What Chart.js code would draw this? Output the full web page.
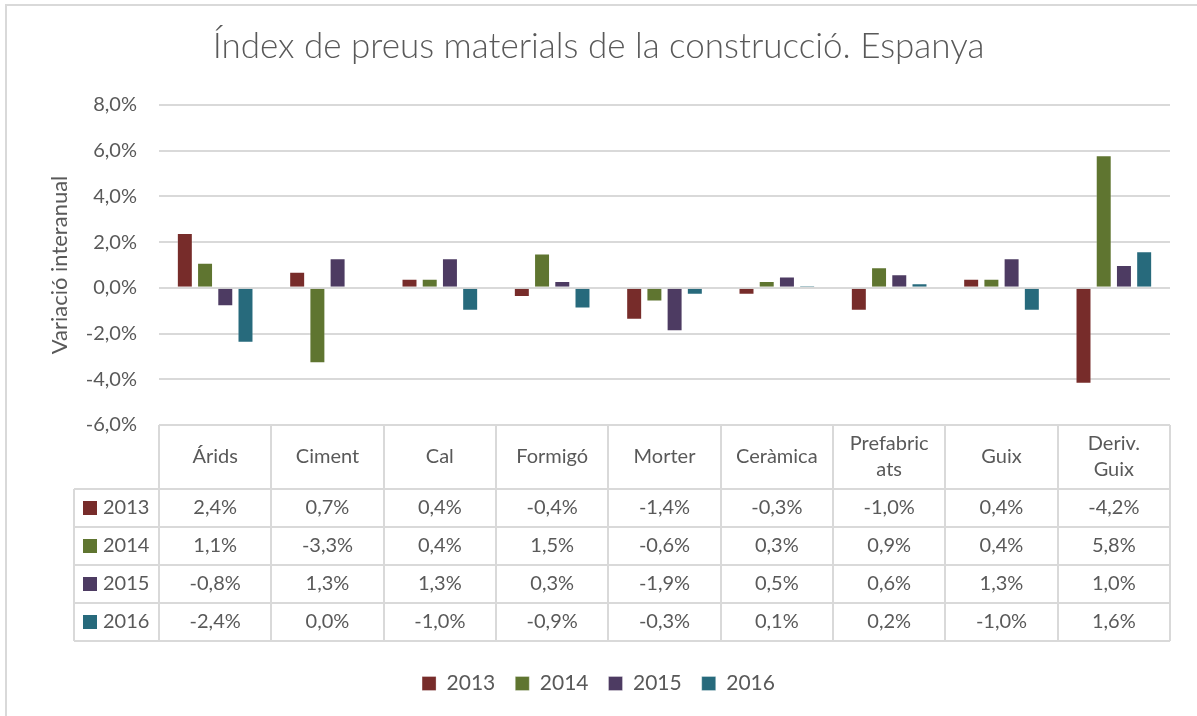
<!DOCTYPE html>
<html>
<head>
<meta charset="utf-8">
<script src="https://cdn.jsdelivr.net/npm/chart.js@4"></script>
<style>
  html, body { margin: 0; padding: 0; background: #fff; }
  #wrap { width: 1197px; height: 716px; }
</style>
</head>
<body>
<div id="wrap"><canvas id="chart" width="1197" height="716"></canvas></div>
<script>
const categories = ["Árids", "Ciment", "Cal", "Formigó", "Morter", "Ceràmica", ["Prefabric", "ats"], "Guix", ["Deriv.", "Guix"]];
const years = ["2013", "2014", "2015", "2016"];
const v2013 = [2.4, 0.7, 0.4, -0.4, -1.4, -0.3, -1.0, 0.4, -4.2];
const v2014 = [1.1, -3.3, 0.4, 1.5, -0.6, 0.3, 0.9, 0.4, 5.8];
const v2015 = [-0.8, 1.3, 1.3, 0.3, -1.9, 0.5, 0.6, 1.3, 1.0];
const v2016 = [-2.4, 0.0, -1.0, -0.9, -0.3, 0.1, 0.2, -1.0, 1.6];
const colors = ["#772C2A", "#5F7530", "#4D3B62", "#276A7C"];

const series = [v2013, v2014, v2015, v2016];
const FONT = "Lato, 'Open Sans', sans-serif";
const TEXT = "#595959";
const GRID = "#D9D9D9";

function pct(v) {
  return v.toFixed(1).replace(".", ",") + "%";
}

// frame round the chart, like the Excel chart area
const framePlugin = {
  id: "frame",
  beforeDraw(chart) {
    const ctx = chart.ctx;
    ctx.save();
    ctx.fillStyle = "#fff";
    ctx.fillRect(0, 0, chart.width, chart.height);
    ctx.strokeStyle = GRID;
    ctx.lineWidth = 2;
    ctx.beginPath();
    ctx.moveTo(6, chart.height);
    ctx.lineTo(6, 5);
    ctx.lineTo(chart.width, 5);
    ctx.stroke();
    ctx.restore();
  }
};

// data table under the plot, placed from the x scale
const tablePlugin = {
  id: "dataTable",
  afterDraw(chart) {
    const ctx = chart.ctx;
    const xs = chart.scales.x;
    const area = chart.chartArea;
    const n = categories.length;
    const w = (xs.right - xs.left) / n;
    const top = area.bottom;
    const headH = 64, rowH = 38;
    const keyLeft = 74;
    const bottom = top + headH + rowH * years.length;

    ctx.save();
    ctx.strokeStyle = GRID;
    ctx.lineWidth = 2;
    ctx.beginPath();
    // vertical lines
    for (let i = 0; i <= n; i++) {
      const x = Math.round(xs.left + i * w);
      ctx.moveTo(x, top);
      ctx.lineTo(x, bottom);
    }
    ctx.moveTo(keyLeft, top + headH);
    ctx.lineTo(keyLeft, bottom);
    // horizontal lines
    ctx.moveTo(xs.left, top);
    ctx.lineTo(xs.right, top);
    for (let r = 0; r <= years.length; r++) {
      const y = Math.round(top + headH + r * rowH);
      ctx.moveTo(keyLeft, y);
      ctx.lineTo(xs.right, y);
    }
    ctx.stroke();

    ctx.fillStyle = TEXT;
    ctx.font = "20px " + FONT;
    ctx.textAlign = "center";
    ctx.textBaseline = "middle";
    categories.forEach((c, i) => {
      const cx = xs.getPixelForValue(i);
      const lines = Array.isArray(c) ? c : [c];
      const mid = top + headH / 2;
      lines.forEach((t, k) => {
        ctx.fillText(t, cx, mid + (k - (lines.length - 1) / 2) * 26);
      });
    });

    series.forEach((vals, r) => {
      const cy = top + headH + r * rowH + rowH / 2;
      vals.forEach((v, i) => {
        ctx.fillText(pct(v), xs.getPixelForValue(i), cy);
      });
      ctx.fillStyle = colors[r];
      ctx.fillRect(keyLeft + 9, cy - 7, 14, 14);
      ctx.fillStyle = TEXT;
      ctx.textAlign = "left";
      ctx.fillText(years[r], keyLeft + 29, cy);
      ctx.textAlign = "center";
    });
    ctx.restore();
  }
};

new Chart(document.getElementById("chart"), {
  type: "bar",
  data: {
    labels: categories,
    datasets: years.map((y, i) => ({
      label: y,
      data: series[i],
      backgroundColor: colors[i],
      borderColor: "rgba(255,255,255,0.3)",
      borderWidth: 1,
      barPercentage: 0.79,
      categoryPercentage: 0.72
    }))
  },
  options: {
    responsive: false,
    animation: false,
    layout: { padding: { top: 12, right: 0, bottom: 12, left: 0 } },
    plugins: {
      title: {
        display: true,
        text: "Índex de preus materials de la construcció. Espanya",
        color: TEXT,
        font: { family: FONT, size: 35, weight: 300 },
        padding: { top: 14, bottom: 37 }
      },
      legend: {
        position: "bottom",
        labels: {
          color: TEXT,
          font: { family: FONT, size: 21 },
          boxWidth: 14,
          boxHeight: 14,
          padding: 20
        }
      },
      tooltip: { enabled: false }
    },
    scales: {
      x: {
        ticks: { display: false },
        grid: { display: false },
        border: { display: false },
        afterFit(scale) { scale.height = 228; }
      },
      y: {
        min: -6,
        max: 8,
        ticks: {
          stepSize: 2,
          color: TEXT,
          font: { family: FONT, size: 20 },
          padding: 22,
          callback: (v) => pct(v)
        },
        grid: { color: GRID, lineWidth: 2, drawTicks: false },
        border: { display: false },
        title: {
          display: true,
          text: "Variació interanual",
          color: TEXT,
          font: { family: FONT, size: 22 },
          padding: { top: 47 }
        },
        afterFit(scale) { scale.width = 159; }
      },
      // empty right margin so the title and legend centre on the whole chart
      yRight: {
        type: "linear",
        position: "right",
        ticks: { display: false },
        grid: { display: false },
        border: { display: false },
        afterFit(scale) { scale.width = 27; }
      }
    }
  },
  plugins: [framePlugin, tablePlugin]
});
</script>
</body>
</html>
